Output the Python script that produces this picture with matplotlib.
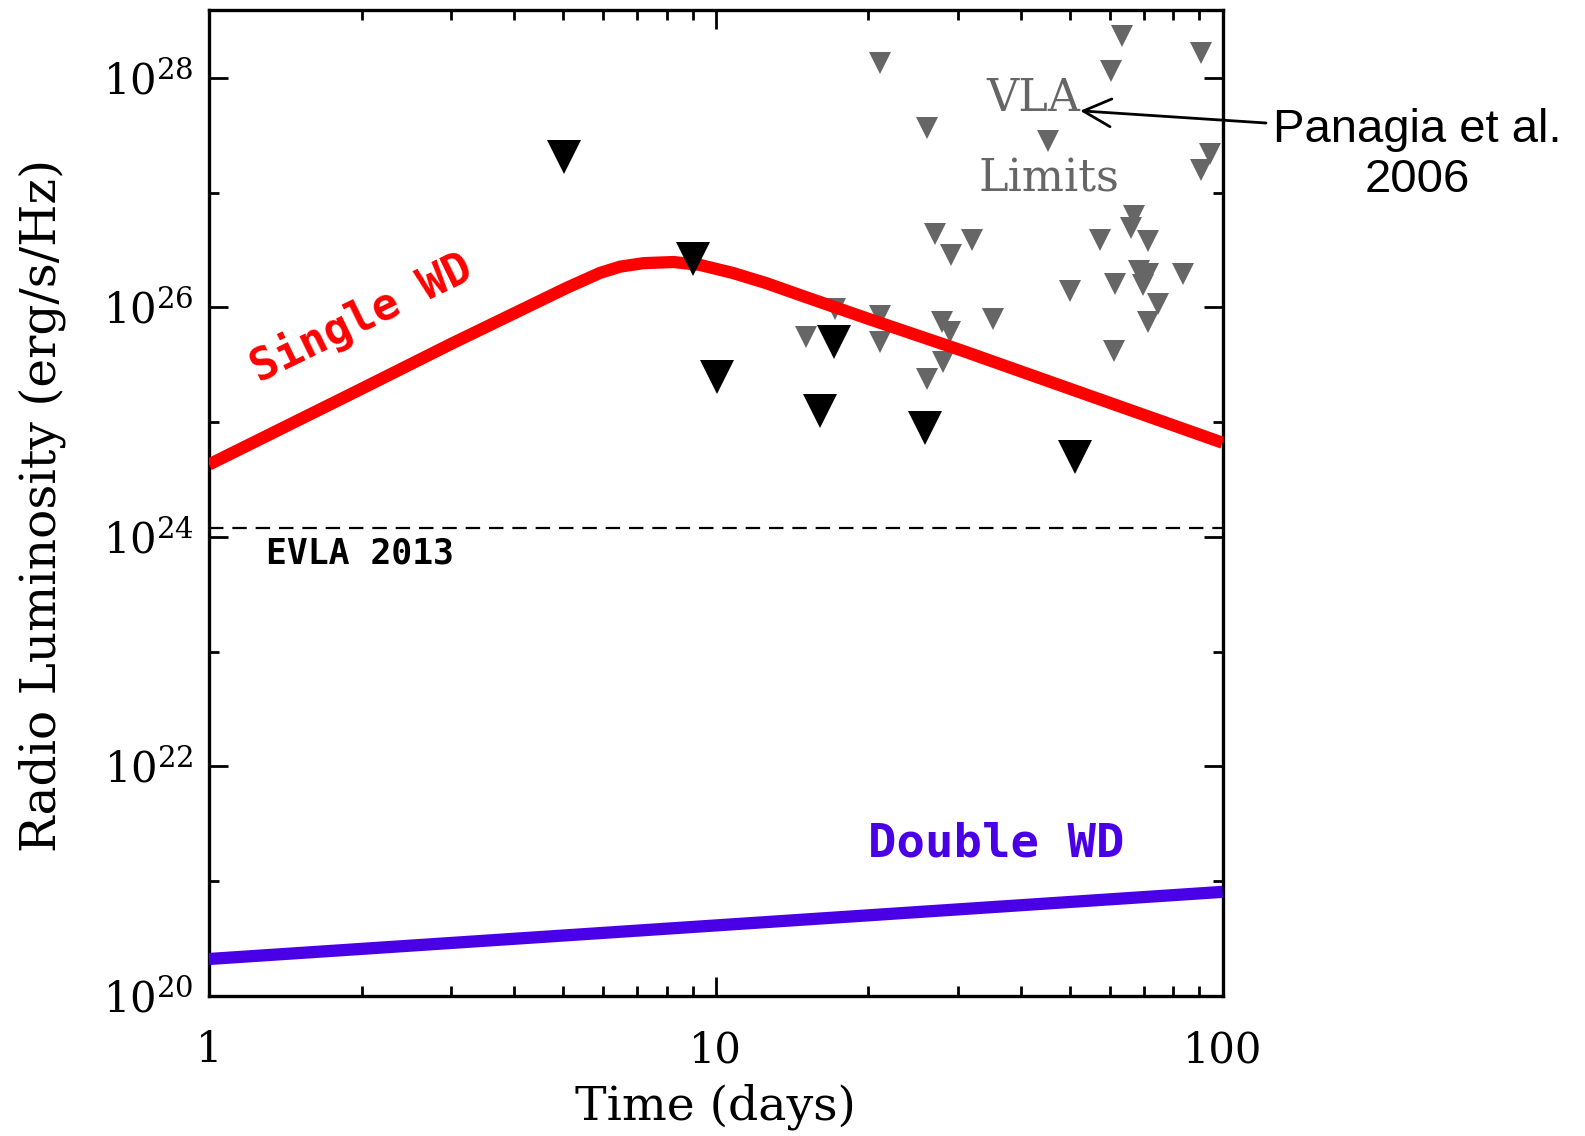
import numpy as np
import matplotlib
matplotlib.use("Agg")
import matplotlib.pyplot as plt
from matplotlib.ticker import FixedLocator, FixedFormatter, NullFormatter

# ---------------- data ----------------
# Single WD model curve: time (days) and log10 luminosity
single_t = [1, 2, 3, 4.37, 5.08, 5.91, 6.48, 7.2, 8.25, 9.3, 10.8, 12.6, 14.6,
            20, 30.3, 50, 100]
single_logL = [24.63, 25.29, 25.68, 26.03, 26.17, 26.30, 26.355, 26.385, 26.395,
               26.37, 26.30, 26.21, 26.11, 25.90, 25.63, 25.29, 24.82]

# Double WD model curve
double_t = [1, 100]
double_logL = [20.32, 20.905]

# EVLA 2013 limit level (log10)
evla_logL = 24.075

# New (black) upper limits
black_t = [5.01, 9.03, 10.04, 16.08, 17.1, 25.84, 51.1]
black_logL = [27.308, 26.425, 25.397, 25.099, 25.695, 24.945, 24.698]

# VLA limits, Panagia et al. 2006 (grey)
grey_t = [21.1, 63.3, 90.7, 60.2, 26.1, 45.2, 94.4, 90.7,
          27.1, 29.1, 32.1, 57.3, 67.0, 66.1, 71.2, 68.4, 71.2, 69.8, 83.4,
          61.3, 50.1, 74.5, 71.2, 61.2, 35.2, 28.0, 29.0, 28.1, 26.1,
          21.1, 21.1, 15.04, 17.2]
grey_logL = [28.132, 28.364, 28.219, 28.060, 27.567, 27.450, 27.337, 27.196,
             26.635, 26.460, 26.591, 26.591, 26.795, 26.690, 26.577, 26.318, 26.288, 26.199, 26.288,
             26.200, 26.142, 26.026, 25.869, 25.622, 25.898, 25.874, 25.786, 25.525, 25.377,
             25.928, 25.697, 25.738, 25.983]

x_ticks = [1, 10, 100]
x_ticklabels = ["1", "10", "100"]
y_major_exp = [20, 22, 24, 26, 28]
y_minor_exp = [21, 23, 25, 27]

# ---------------- figure ----------------
plt.rcParams["font.family"] = ["DejaVu Serif"]
plt.rcParams["mathtext.fontset"] = "dejavuserif"

W, H = 1585, 1136
fig = plt.figure(figsize=(W / 100, H / 100), dpi=100)
ax_l, ax_r, ax_t, ax_b = 209, 1222.5, 9.5, 995.7
ax = fig.add_axes([ax_l / W, 1 - ax_b / H, (ax_r - ax_l) / W, (ax_b - ax_t) / H])

ax.set_xscale("log")
ax.set_yscale("log")
ax.set_xlim(1, 100)
ax.set_ylim(1e20, 10 ** 28.596)

# grey VLA limits
ax.plot(grey_t, 10 ** np.array(grey_logL), ls="none", marker="v", ms=15.5,
        mew=0, color="#666666", zorder=2)

# models
ax.plot(single_t, 10 ** np.array(single_logL), color="#ff0000", lw=8.8,
        solid_joinstyle="round", solid_capstyle="butt", zorder=3)
ax.plot(double_t, 10 ** np.array(double_logL), color="#4a00e6", lw=8.8,
        solid_capstyle="butt", zorder=3)

# EVLA level
ax.axhline(10 ** evla_logL, color="black", lw=1.6, dashes=(6.5, 4.0), zorder=2)

# black limits
ax.plot(black_t, 10 ** np.array(black_logL), ls="none", marker="v", ms=25,
        mew=0, color="black", zorder=4)

# texts inside the axes
ax.text(2.0, 10 ** 25.91, "Single WD", color="#ff0000", rotation=26,
        family="DejaVu Sans Mono", weight="bold", fontsize=32,
        ha="center", va="center", rotation_mode="anchor", zorder=5)
ax.text(35.75, 10 ** 21.32, "Double WD", color="#4a00e6",
        family="DejaVu Sans Mono", weight="bold", fontsize=34,
        ha="center", va="center", zorder=5)
ax.text(1.296, 10 ** 23.85, "EVLA 2013", color="black",
        family="DejaVu Sans Mono", weight="bold", fontsize=25,
        ha="left", va="center", zorder=5)
ax.text(42.3, 10 ** 27.822, "VLA", color="#666666", fontsize=32,
        ha="center", va="center", zorder=5)
ax.text(45.35, 10 ** 27.12, "Limits", color="#666666", fontsize=32,
        ha="center", va="center", zorder=5)

# reference annotation
fig.text(1417 / W, 1 - 155 / H, "Panagia et al.\n2006", family="Liberation Sans",
         fontsize=34, ha="center", va="center", linespacing=1.2)
ax.annotate("", xy=(52.36, 10 ** 27.713), xycoords="data",
            xytext=(1266, H - 123), textcoords="figure pixels",
            arrowprops=dict(arrowstyle="->,head_length=1.0,head_width=0.5",
                            mutation_scale=20, lw=2.0, color="black",
                            shrinkA=0, shrinkB=0),
            annotation_clip=False, zorder=6)

# ticks
ax.xaxis.set_major_locator(FixedLocator(x_ticks))
ax.xaxis.set_major_formatter(FixedFormatter(x_ticklabels))
minor_x = [m * d for d in (1, 10) for m in range(2, 10)]
ax.xaxis.set_minor_locator(FixedLocator(minor_x))
ax.xaxis.set_minor_formatter(NullFormatter())

ax.yaxis.set_major_locator(FixedLocator([10.0 ** e for e in y_major_exp]))
ax.yaxis.set_major_formatter(FixedFormatter([r"$\mathregular{10^{%d}}$" % e for e in y_major_exp]))
ax.yaxis.set_minor_locator(FixedLocator([10.0 ** e for e in y_minor_exp]))
ax.yaxis.set_minor_formatter(NullFormatter())

ax.tick_params(which="both", direction="in", top=True, right=True, width=2.0, color="black")
ax.tick_params(which="major", length=14)
ax.tick_params(which="minor", length=7)
ax.tick_params(axis="x", which="major", labelsize=30, pad=24)
ax.tick_params(axis="y", which="major", labelsize=30, pad=11)

for s in ax.spines.values():
    s.set_linewidth(2.4)

ax.set_xlabel("Time (days)", fontsize=34)
ax.xaxis.label.set_va("center")
ax.xaxis.set_label_coords(0.5, (ax_b - 1107) / (ax_b - ax_t))
ax.set_ylabel("Radio Luminosity (erg/s/Hz)", fontsize=35)
ax.yaxis.label.set_va("center")
ax.yaxis.label.set_ha("center")
ax.yaxis.set_label_coords((42.5 - ax_l) / (ax_r - ax_l), (ax_b - 505) / (ax_b - ax_t))

fig.savefig("out.png", dpi=100)
